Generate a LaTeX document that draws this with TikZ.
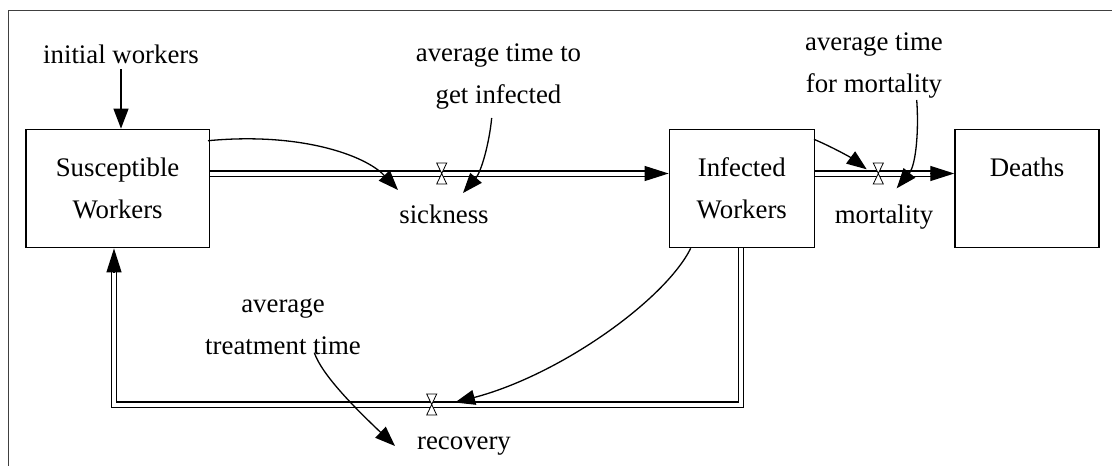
\documentclass[tikz,border=0pt]{standalone}
\usepackage{fontspec}
\setmainfont{Liberation Serif}
\usetikzlibrary{arrows.meta,calc,backgrounds}
\begin{document}
\begin{tikzpicture}[x=1pt,y=-1pt,
  every node/.style={font=\fontsize{26.8}{41.5}\selectfont, inner sep=0pt},
  stock/.style={draw, line width=1.4pt, rectangle, align=center, minimum height=118.4pt},
  lbl/.style={anchor=base, align=center},
  pipe/.style={double, double distance=4pt, line width=1.2pt, line join=miter},
  flowhead/.style={-{Triangle[length=24pt,width=15pt]}, line width=1.2pt},
  info/.style={-{Triangle[length=20pt,width=15pt]}, line width=1.3pt},
  valve/.style={draw, fill=white, line width=0.8pt},
  frame/.style={draw=black!75, line width=1pt}]
\useasboundingbox (0,0) rectangle (1112,466);
\draw[frame] (8.3,466) -- (8.3,10.7) -- (1112,10.7);

% stocks
\node[stock, minimum width=183.3pt] (S) at (117.6,188.5) {Susceptible\\Workers};
\node[stock, minimum width=145pt] (I) at (741.8,188.5) {Infected\\Workers};
\node[stock, minimum width=144pt] (D) at (1027,188.5) {Deaths\\\phantom{W}};

% labels (base = baseline of the last line)
\node[lbl] (iw) at (121,63) {initial workers};
\node[lbl] (atgi) at (498.5,103) {average time to\\get infected};
\node[lbl] (atfm) at (874,92) {average time\\for mortality};
\node[lbl] (att) at (283,354) {average\\treatment time};
\node[lbl] (sick) at (444,223) {sickness};
\node[lbl] (mort) at (884,223) {mortality};
\node[lbl] (rec) at (464,449) {recovery};

% valves and pipe corners
\coordinate (vs) at (441.7,173.5);
\coordinate (vm) at (878.3,173.5);
\coordinate (vr) at (431.7,404.5);
\coordinate (rc1) at (740.7,404.5);
\coordinate (rc2) at (114,404.5);

% flows (pipes)
\begin{pgfonlayer}{background}
\draw[pipe] (S.east |- vs) -- ($(I.west |- vs)+(-23,0)$);
\draw[pipe] (I.east |- vm) -- ($(D.west |- vm)+(-23,0)$);
\draw[pipe] (I.south -| rc1) -- (rc1) -- (rc2) -- ($(S.south -| rc2)+(0,23)$);
\end{pgfonlayer}
\draw[flowhead] ($(I.west |- vs)+(-24,0)$) -- (I.west |- vs);
\draw[flowhead] ($(D.west |- vm)+(-24,0)$) -- (D.west |- vm);
\draw[flowhead] ($(S.south -| rc2)+(0,24)$) -- (S.south -| rc2);

\foreach \v in {vs,vm,vr}{
  \draw[valve] ($(\v)+(-5,-10.5)$) -- ++(10,0) -- ++(-10,21) -- ++(10,0) -- cycle;
}

% information links
\coordinate (a1s) at (208,140.7);  \coordinate (a1e) at (398,190);
\coordinate (a2s) at (491.7,118);  \coordinate (a2e) at (463,193);
\coordinate (a3s) at (814,139.3);  \coordinate (a3e) at (866.7,169.3);
\coordinate (a4s) at (916.7,100);  \coordinate (a4e) at (896.7,188.3);
\coordinate (a5s) at (690.7,248.3); \coordinate (a5e) at (455,402.5);
\coordinate (a6s) at (314.3,352.7); \coordinate (a6e) at (395,446);

\draw[info] (iw.south |- 0,69) -- (iw.south |- S.north);
\draw[info] (a1s) .. controls (300,132) and (365,155) .. (a1e);
\draw[info] (a2s) .. controls (489,145) and (481,172) .. (a2e);
\draw[info] (a3s) .. controls (832,147) and (850,157) .. (a3e);
\draw[info] (a4s) .. controls (919,130) and (916,165) .. (a4e);
\draw[info] (a5s) .. controls (665,300) and (560,375) .. (a5e);
\draw[info] (a6s) .. controls (322,375) and (355,408) .. (a6e);
\end{tikzpicture}
\end{document}
